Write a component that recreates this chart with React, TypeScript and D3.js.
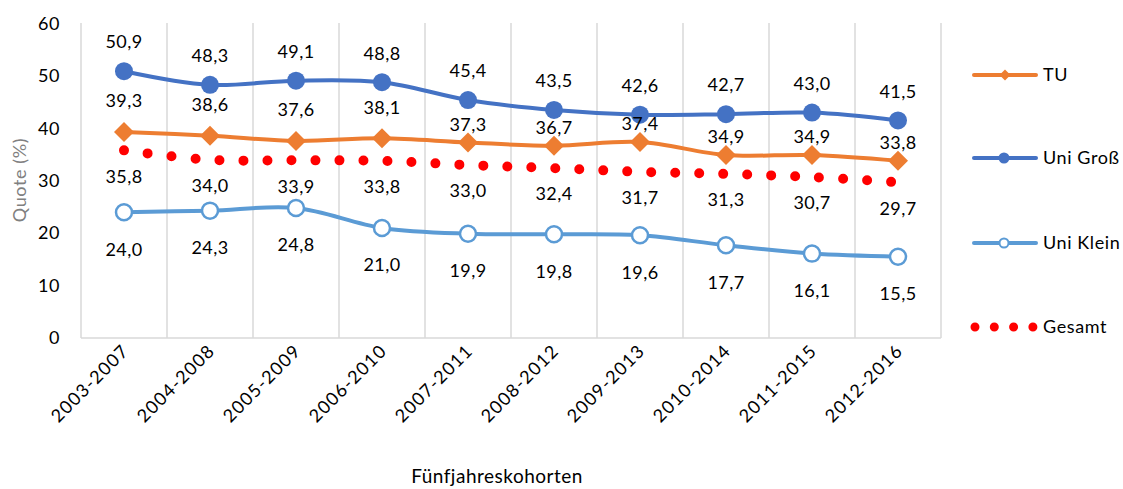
import * as d3 from 'd3'

const categories = ['2003-2007', '2004-2008', '2005-2009', '2006-2010', '2007-2011', '2008-2012', '2009-2013', '2010-2014', '2011-2015', '2012-2016']
const tu = [39.3, 38.6, 37.6, 38.1, 37.3, 36.7, 37.4, 34.9, 34.9, 33.8]
const uniGross = [50.9, 48.3, 49.1, 48.8, 45.4, 43.5, 42.6, 42.7, 43.0, 41.5]
const uniKlein = [24.0, 24.3, 24.8, 21.0, 19.9, 19.8, 19.6, 17.7, 16.1, 15.5]
const gesamt = [35.8, 34.0, 33.9, 33.8, 33.0, 32.4, 31.7, 31.3, 30.7, 29.7]
const yTicks = [0, 10, 20, 30, 40, 50, 60]

// TU labels were nudged closer to the markers from 2007-2011 on
const tuLabelLift = [31, 31, 31, 31, 18, 18, 18, 18, 18, 18]

const W = 1123
const H = 489
const FONT = 'Lato, "Open Sans", sans-serif'

const x = d3.scaleBand<string>().domain(categories).range([81, 941])
const y = d3.scaleLinear().domain([0, 60]).range([338, 23.5])
const cx = (c: string) => (x(c) as number) + x.bandwidth() / 2

const line = d3.line<number>()
  .x((_, i) => cx(categories[i]))
  .y(d => y(d))
  .curve(d3.curveCatmullRom.alpha(0.5))

const fmt = (v: number) => v.toFixed(1).replace('.', ',')

function diamond(px: number, py: number, r: number) {
  return `M${px},${py - r}L${px + r},${py}L${px},${py + r}L${px - r},${py}Z`
}

export default function App() {
  return (
    <svg width={W} height={H} style={{ display: 'block', position: 'absolute', left: 0, top: 0, background: '#fff' }} fontFamily={FONT}>
      {/* vertical gridlines between categories */}
      {[...categories.map(c => x(c) as number), 941].map((gx, i) => (
        <line key={i} x1={gx} x2={gx} y1={23} y2={338} stroke="#d9d9d9" strokeWidth={1.5} />
      ))}
      <line x1={81} x2={941} y1={338} y2={338} stroke="#d9d9d9" strokeWidth={1.5} />

      {/* y ticks */}
      {yTicks.map(t => (
        <text key={t} x={60} y={y(t)} dy="0.35em" textAnchor="end" fontSize={18} letterSpacing={0.5} fill="#000">{t}</text>
      ))}
      <text transform={`translate(20,180) rotate(-90)`} textAnchor="middle" dy="0.35em" fontSize={18} letterSpacing={0.6} fill="#808080">Quote (%)</text>

      {/* x ticks */}
      {categories.map(c => (
        <text key={c} transform={`translate(${cx(c) + 6},352) rotate(-45)`} textAnchor="end" fontSize={18} letterSpacing={1.2} fill="#000">{c}</text>
      ))}
      <text x={497} y={476} dy="0.35em" textAnchor="middle" fontSize={19} letterSpacing={0.5} fill="#000">Fünfjahreskohorten</text>

      {/* Gesamt dotted */}
      <path d={line(gesamt) ?? ''} fill="none" stroke="#ff0000" strokeWidth={10} strokeLinecap="round" strokeDasharray="0 24" />

      {/* Uni Klein */}
      <path d={line(uniKlein) ?? ''} fill="none" stroke="#5b9bd5" strokeWidth={4} strokeLinecap="round" />
      {uniKlein.map((v, i) => (
        <circle key={i} cx={cx(categories[i])} cy={y(v)} r={8} fill="#fff" stroke="#5b9bd5" strokeWidth={2.5} />
      ))}

      {/* TU */}
      <path d={line(tu) ?? ''} fill="none" stroke="#ed7d31" strokeWidth={4} strokeLinecap="round" />
      {tu.map((v, i) => (
        <path key={i} d={diamond(cx(categories[i]), y(v), 10)} fill="#ed7d31" />
      ))}

      {/* Uni Groß */}
      <path d={line(uniGross) ?? ''} fill="none" stroke="#4472c4" strokeWidth={4} strokeLinecap="round" />
      {uniGross.map((v, i) => (
        <circle key={i} cx={cx(categories[i])} cy={y(v)} r={9} fill="#4472c4" />
      ))}

      {/* data labels */}
      {uniGross.map((v, i) => (
        <text key={'g' + i} x={cx(categories[i])} y={y(v) - 29} dy="0.35em" textAnchor="middle" fontSize={18} letterSpacing={0.4}>{fmt(v)}</text>
      ))}
      {tu.map((v, i) => (
        <text key={'t' + i} x={cx(categories[i])} y={y(v) - tuLabelLift[i]} dy="0.35em" textAnchor="middle" fontSize={18} letterSpacing={0.4}>{fmt(v)}</text>
      ))}
      {gesamt.map((v, i) => (
        <text key={'s' + i} x={cx(categories[i])} y={y(v) + 26} dy="0.35em" textAnchor="middle" fontSize={18} letterSpacing={0.4}>{fmt(v)}</text>
      ))}
      {uniKlein.map((v, i) => (
        <text key={'k' + i} x={cx(categories[i])} y={y(v) + 37} dy="0.35em" textAnchor="middle" fontSize={18} letterSpacing={0.4}>{fmt(v)}</text>
      ))}

      {/* legend */}
      <g>
        <line x1={974} x2={1036} y1={75} y2={75} stroke="#ed7d31" strokeWidth={4} strokeLinecap="round" />
        <path d={diamond(1005, 75, 5.5)} fill="#ed7d31" />
        <text x={1043} y={75} dy="0.35em" fontSize={18} letterSpacing={0.6}>TU</text>

        <line x1={974} x2={1036} y1={158} y2={158} stroke="#4472c4" strokeWidth={4} strokeLinecap="round" />
        <circle cx={1004} cy={158} r={5.5} fill="#4472c4" />
        <text x={1043} y={158} dy="0.35em" fontSize={18} letterSpacing={0.6}>Uni Groß</text>

        <line x1={974} x2={1036} y1={243} y2={243} stroke="#5b9bd5" strokeWidth={4} strokeLinecap="round" />
        <circle cx={1004} cy={243} r={4.5} fill="#fff" stroke="#5b9bd5" strokeWidth={2} />
        <text x={1043} y={243} dy="0.35em" fontSize={18} letterSpacing={0.6}>Uni Klein</text>

        <line x1={975} x2={1033} y1={327} y2={327} stroke="#ff0000" strokeWidth={9} strokeLinecap="round" strokeDasharray="0 19.3" />
        <text x={1043} y={327} dy="0.35em" fontSize={18} letterSpacing={0.6}>Gesamt</text>
      </g>
    </svg>
  )
}
